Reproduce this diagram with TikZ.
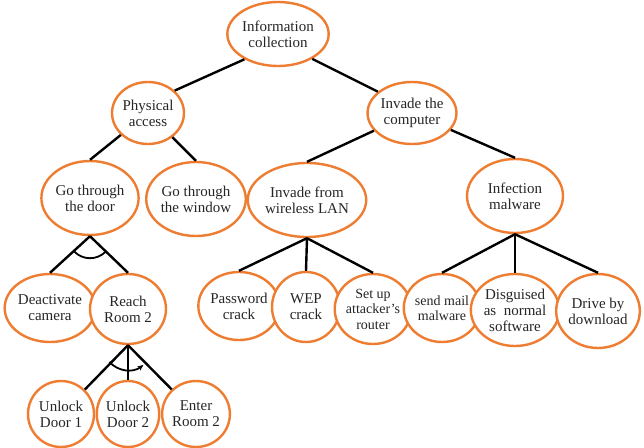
\documentclass[tikz,border=0pt]{standalone}
\usepackage{fontspec}
\setmainfont{Liberation Serif}
\usetikzlibrary{shapes.geometric,arrows.meta}
\definecolor{ellorange}{HTML}{EE7D31}
\definecolor{txtgray}{HTML}{262626}
\begin{document}
\begin{tikzpicture}[x=1pt,y=1pt,
  goal/.style={ellipse, draw=ellorange, line width=2.4pt, fill=white, inner sep=0pt,
    align=center, text=txtgray, font=\fontsize{15}{16}\selectfont},
  small/.style={font=\fontsize{14}{15.5}\selectfont},
  link/.style={line width=2.4pt, black},
  andarc/.style={line width=1.8pt, black}]
\useasboundingbox (0,0) rectangle (644,-447);
% nodes
\node[goal, minimum width=92, minimum height=64] (info) at (278,-34) {Information\\collection};
\node[goal, minimum width=72, minimum height=62] (phys) at (148,-113) {Physical\\access};
\node[goal, minimum width=84, minimum height=62] (comp) at (412,-113) {Invade the\\computer};
\node[goal, minimum width=84, minimum height=74] (door) at (90,-198) {Go through\\the door};
\node[goal, minimum width=86, minimum height=74] (window) at (196,-199) {Go through\\the window};
\node[goal, minimum width=96, minimum height=74] (wlan) at (307,-200) {Invade from\\wireless LAN};
\node[goal, minimum width=96, minimum height=74] (infm) at (515,-196) {Infection\\malware};
\node[goal, minimum width=76, minimum height=68] (deact) at (50,-308) {Deactivate\\camera};
\node[goal, minimum width=76, minimum height=70] (reach) at (128,-309) {Reach\\Room 2};
\node[goal, minimum width=68, minimum height=68] (pwd) at (239,-306) {Password\\crack};
\node[goal, minimum width=68, minimum height=70] (wep) at (306,-307) {WEP\\crack};
\node[goal, small, minimum width=68, minimum height=70] (router) at (373,-309) {Set up\\attacker’s\\router};
\node[goal, small, minimum width=70, minimum height=68] (mail) at (442,-308) {send mail\\malware};
\node[goal, minimum width=78, minimum height=72] (disg) at (515,-310) {Disguised\\as~~normal\\software};
\node[goal, minimum width=80, minimum height=74] (drive) at (598,-311) {Drive by\\download};
\node[goal, minimum width=66, minimum height=66] (u1) at (61,-414) {Unlock\\Door 1};
\node[goal, minimum width=62, minimum height=66] (u2) at (128,-414) {Unlock\\Door 2};
\node[goal, minimum width=66, minimum height=66] (enter) at (196,-414) {Enter\\Room 2};
% connectors
\draw[link] (info.217) -- (phys.40);
\draw[link] (info.324) -- (comp.148);
\draw[link] (phys) -- (door.north);
\draw[link] (phys) -- (window.north);
\draw[link] (comp) -- (wlan.north);
\draw[link] (comp) -- (infm.north);
\draw[link] (door.south) -- (deact.north);
\draw[link] (door.south) -- (reach.north);
\draw[link] (reach.south) -- (u1);
\draw[link] (reach.south) -- (u2.north);
\draw[link] (reach.south) -- (enter);
\draw[link] (wlan.south) -- (pwd.north);
\draw[link] (wlan.south) -- (wep.north);
\draw[link] (wlan.south) -- (router.north);
\draw[link] (infm.south) -- (mail.north);
\draw[link] (infm.south) -- (disg.north);
\draw[link] (infm.south) -- (drive.north);
% AND arcs
\draw[andarc] ([shift={(224:22pt)}]door.south) arc[start angle=224, end angle=314, radius=22pt];
\draw[andarc, -{Stealth[length=6pt,width=5pt]}] ([shift={(222:25pt)}]reach.south) arc[start angle=222, end angle=308, radius=25pt];
\end{tikzpicture}
\end{document}
